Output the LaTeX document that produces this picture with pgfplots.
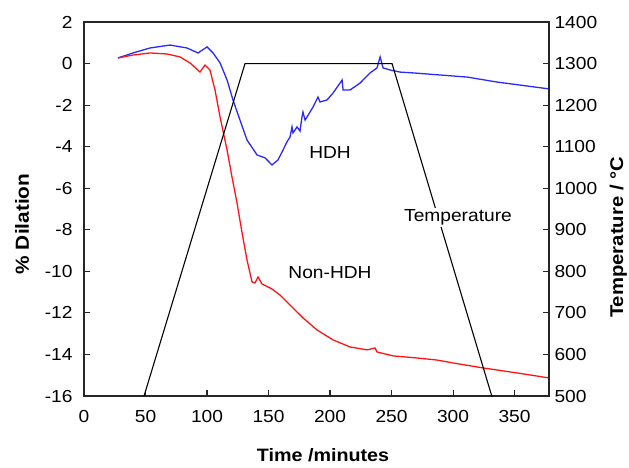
\documentclass[border=0pt]{standalone}
\usepackage{fontspec}
\setmainfont[FakeStretch=1.1]{Liberation Sans}
\usepackage{pgfplots}
\pgfplotsset{compat=1.18}
\definecolor{hdhblue}{RGB}{40,40,255}
\definecolor{nonred}{RGB}{255,20,20}
\begin{document}
\begin{tikzpicture}
\useasboundingbox (-84bp,-72bp) rectangle (545bp,396bp);
\begin{axis}[
  scale only axis, width=465bp, height=374bp,
  xmin=0, xmax=378, ymin=-16, ymax=2,
  xtick={0,50,...,350}, ytick={-16,-14,...,2},
  tick pos=left, tick align=inside,
  major tick length=6bp,
  axis line style={line width=1.3pt, black!85},
  tick style={line width=1.1pt, black!85},
  /pgf/number format/assume math mode=true,
  ticklabel style={font=\fontsize{17.5}{20}\selectfont},
  xticklabel style={yshift=-11bp},
  yticklabel style={xshift=-8bp},
  xlabel={\bfseries Time /minutes},
  xlabel style={font=\fontsize{18}{20}\selectfont, at={(axis description cs:0.514,-0.158)}, anchor=center},
  ylabel={\bfseries \% Dilation},
  ylabel style={font=\fontsize{19}{21}\selectfont, at={(axis description cs:-0.133,0.46)}, anchor=center},
]
\addplot[hdhblue, line width=1.3pt] coordinates {
(27.6,0.27) (39.8,0.51) (53.7,0.75) (69.9,0.89) (83.7,0.75) (92.7,0.51)
(100,0.80) (104.9,0.51) (110.6,0.03) (116.3,-0.79) (121.1,-1.75) (126.8,-2.72)
(132.5,-3.68) (140.7,-4.40) (147.2,-4.54) (152.8,-4.88) (157.7,-4.64) (161.8,-4.16)
(165,-3.77) (167.5,-3.53) (169.1,-3.05) (169.9,-3.34) (173.2,-3.05) (175.6,-3.25)
(177.2,-2.57) (178,-2.33) (179.7,-2.72) (181.3,-2.57) (186.2,-2.09) (190.2,-1.61)
(191.9,-1.85) (197.6,-1.75) (202.4,-1.42) (208.1,-0.94) (209.8,-0.79) (210.6,-1.27)
(216.3,-1.27) (224.4,-0.94) (232.5,-0.45) (238.2,-0.21) (240.7,0.32) (243.1,-0.21)
(248.8,-0.31) (256.9,-0.41) (267.5,-0.45) (289.4,-0.55) (311.4,-0.65) (335.8,-0.89)
(378,-1.22)
};
\addplot[nonred, line width=1.3pt] coordinates {
(27.6,0.27) (39.8,0.41) (53.7,0.51) (67.5,0.46) (78,0.32) (86.2,0.03)
(94.3,-0.41) (98.4,-0.07) (102.4,-0.31) (106.5,-1.27) (110.6,-2.57) (116.3,-4.16)
(120.3,-5.46) (124.4,-6.71) (128.5,-8.15) (132.5,-9.45) (136.6,-10.51) (139,-10.56)
(141.5,-10.27) (144.7,-10.61) (151.2,-10.80) (152.8,-10.85) (159.3,-11.14) (167.5,-11.62)
(178,-12.24) (189.4,-12.82) (202.4,-13.30) (216.3,-13.64) (230.1,-13.78) (236.6,-13.69)
(238.2,-13.88) (251.2,-14.07) (270.7,-14.17) (287,-14.27) (300,-14.41) (324.4,-14.65)
(352,-14.89) (378,-15.13)
};
\node[font=\fontsize{17.5}{20}\selectfont] at (axis cs:200,-4.26) {HDH};
\node[font=\fontsize{17.5}{20}\selectfont] at (axis cs:200,-10.08) {Non-HDH};
\end{axis}
\begin{axis}[
  scale only axis, width=465bp, height=374bp,
  xmin=0, xmax=378, ymin=500, ymax=1400,
  ytick={500,600,...,1400},
  axis x line=none, axis y line*=right,
  tick align=inside, major tick length=6bp,
  axis line style={line width=1.3pt, black!85},
  tick style={line width=1.1pt, black!85},
  /pgf/number format/assume math mode=true,
  /pgf/number format/1000 sep={},
  ticklabel style={font=\fontsize{17.5}{20}\selectfont},
  yticklabel style={xshift=2bp},
  ylabel={\bfseries Temperature / °C},
  ylabel style={font=\fontsize{18.5}{21}\selectfont, at={(axis description cs:1.149,0.424)}, anchor=center},
]
\addplot[black, line width=1.1pt] coordinates {
(48.8,500) (130.9,1300) (250.4,1300) (333.5,480)
};
\node[font=\fontsize{17.5}{20}\selectfont, fill=white, inner sep=2bp] at (axis cs:304,930) {Temperature};
\end{axis}
\end{tikzpicture}
\end{document}
